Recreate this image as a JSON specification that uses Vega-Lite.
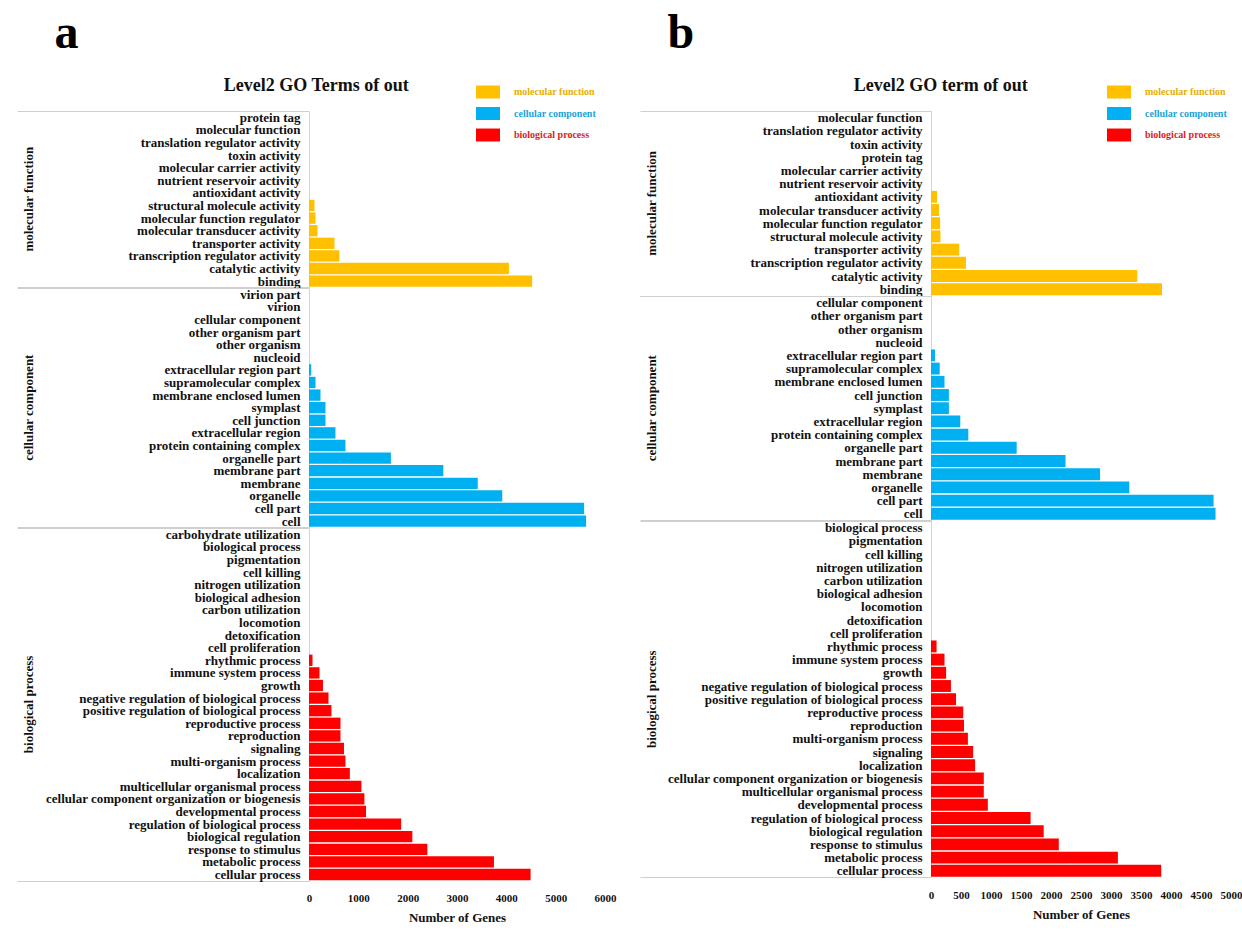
{
  "$schema": "https://vega.github.io/schema/vega-lite/v6.json",
  "background": "white",
  "padding": {"left": 16, "top": 10, "right": 0, "bottom": 0},
  "datasets": {
    "a": [
      {"group": "molecular function", "term": "protein tag", "genes": 0},
      {"group": "molecular function", "term": "molecular function", "genes": 0},
      {"group": "molecular function", "term": "translation regulator activity", "genes": 0},
      {"group": "molecular function", "term": "toxin activity", "genes": 0},
      {"group": "molecular function", "term": "molecular carrier activity", "genes": 0},
      {"group": "molecular function", "term": "nutrient reservoir activity", "genes": 0},
      {"group": "molecular function", "term": "antioxidant activity", "genes": 0},
      {"group": "molecular function", "term": "structural molecule activity", "genes": 111},
      {"group": "molecular function", "term": "molecular function regulator", "genes": 132},
      {"group": "molecular function", "term": "molecular transducer activity", "genes": 172},
      {"group": "molecular function", "term": "transporter activity", "genes": 516},
      {"group": "molecular function", "term": "transcription regulator activity", "genes": 617},
      {"group": "molecular function", "term": "catalytic activity", "genes": 4053},
      {"group": "molecular function", "term": "binding", "genes": 4524},
      {"group": "cellular component", "term": "virion part", "genes": 0},
      {"group": "cellular component", "term": "virion", "genes": 0},
      {"group": "cellular component", "term": "cellular component", "genes": 0},
      {"group": "cellular component", "term": "other organism part", "genes": 0},
      {"group": "cellular component", "term": "other organism", "genes": 0},
      {"group": "cellular component", "term": "nucleoid", "genes": 0},
      {"group": "cellular component", "term": "extracellular region part", "genes": 45},
      {"group": "cellular component", "term": "supramolecular complex", "genes": 132},
      {"group": "cellular component", "term": "membrane enclosed lumen", "genes": 233},
      {"group": "cellular component", "term": "symplast", "genes": 334},
      {"group": "cellular component", "term": "cell junction", "genes": 334},
      {"group": "cellular component", "term": "extracellular region", "genes": 536},
      {"group": "cellular component", "term": "protein containing complex", "genes": 739},
      {"group": "cellular component", "term": "organelle part", "genes": 1660},
      {"group": "cellular component", "term": "membrane part", "genes": 2723},
      {"group": "cellular component", "term": "membrane", "genes": 3421},
      {"group": "cellular component", "term": "organelle", "genes": 3917},
      {"group": "cellular component", "term": "cell part", "genes": 5577},
      {"group": "cellular component", "term": "cell", "genes": 5617},
      {"group": "biological process", "term": "carbohydrate utilization", "genes": 0},
      {"group": "biological process", "term": "biological process", "genes": 0},
      {"group": "biological process", "term": "pigmentation", "genes": 0},
      {"group": "biological process", "term": "cell killing", "genes": 0},
      {"group": "biological process", "term": "nitrogen utilization", "genes": 0},
      {"group": "biological process", "term": "biological adhesion", "genes": 0},
      {"group": "biological process", "term": "carbon utilization", "genes": 0},
      {"group": "biological process", "term": "locomotion", "genes": 0},
      {"group": "biological process", "term": "detoxification", "genes": 0},
      {"group": "biological process", "term": "cell proliferation", "genes": 0},
      {"group": "biological process", "term": "rhythmic process", "genes": 71},
      {"group": "biological process", "term": "immune system process", "genes": 213},
      {"group": "biological process", "term": "growth", "genes": 283},
      {"group": "biological process", "term": "negative regulation of biological process", "genes": 395},
      {"group": "biological process", "term": "positive regulation of biological process", "genes": 455},
      {"group": "biological process", "term": "reproductive process", "genes": 638},
      {"group": "biological process", "term": "reproduction", "genes": 638},
      {"group": "biological process", "term": "signaling", "genes": 709},
      {"group": "biological process", "term": "multi-organism process", "genes": 739},
      {"group": "biological process", "term": "localization", "genes": 828},
      {"group": "biological process", "term": "multicellular organismal process", "genes": 1063},
      {"group": "biological process", "term": "cellular component organization or biogenesis", "genes": 1123},
      {"group": "biological process", "term": "developmental process", "genes": 1156},
      {"group": "biological process", "term": "regulation of biological process", "genes": 1868},
      {"group": "biological process", "term": "biological regulation", "genes": 2095},
      {"group": "biological process", "term": "response to stimulus", "genes": 2399},
      {"group": "biological process", "term": "metabolic process", "genes": 3749},
      {"group": "biological process", "term": "cellular process", "genes": 4492}
    ],
    "b": [
      {"group": "molecular function", "term": "molecular function", "genes": 0},
      {"group": "molecular function", "term": "translation regulator activity", "genes": 0},
      {"group": "molecular function", "term": "toxin activity", "genes": 0},
      {"group": "molecular function", "term": "protein tag", "genes": 0},
      {"group": "molecular function", "term": "molecular carrier activity", "genes": 0},
      {"group": "molecular function", "term": "nutrient reservoir activity", "genes": 0},
      {"group": "molecular function", "term": "antioxidant activity", "genes": 100},
      {"group": "molecular function", "term": "molecular transducer activity", "genes": 133},
      {"group": "molecular function", "term": "molecular function regulator", "genes": 152},
      {"group": "molecular function", "term": "structural molecule activity", "genes": 158},
      {"group": "molecular function", "term": "transporter activity", "genes": 470},
      {"group": "molecular function", "term": "transcription regulator activity", "genes": 582},
      {"group": "molecular function", "term": "catalytic activity", "genes": 3438},
      {"group": "molecular function", "term": "binding", "genes": 3850},
      {"group": "cellular component", "term": "cellular component", "genes": 0},
      {"group": "cellular component", "term": "other organism part", "genes": 0},
      {"group": "cellular component", "term": "other organism", "genes": 0},
      {"group": "cellular component", "term": "nucleoid", "genes": 0},
      {"group": "cellular component", "term": "extracellular region part", "genes": 67},
      {"group": "cellular component", "term": "supramolecular complex", "genes": 145},
      {"group": "cellular component", "term": "membrane enclosed lumen", "genes": 225},
      {"group": "cellular component", "term": "cell junction", "genes": 298},
      {"group": "cellular component", "term": "symplast", "genes": 298},
      {"group": "cellular component", "term": "extracellular region", "genes": 488},
      {"group": "cellular component", "term": "protein containing complex", "genes": 622},
      {"group": "cellular component", "term": "organelle part", "genes": 1428},
      {"group": "cellular component", "term": "membrane part", "genes": 2242},
      {"group": "cellular component", "term": "membrane", "genes": 2818},
      {"group": "cellular component", "term": "organelle", "genes": 3305},
      {"group": "cellular component", "term": "cell part", "genes": 4710},
      {"group": "cellular component", "term": "cell", "genes": 4742},
      {"group": "biological process", "term": "biological process", "genes": 0},
      {"group": "biological process", "term": "pigmentation", "genes": 0},
      {"group": "biological process", "term": "cell killing", "genes": 0},
      {"group": "biological process", "term": "nitrogen utilization", "genes": 0},
      {"group": "biological process", "term": "carbon utilization", "genes": 0},
      {"group": "biological process", "term": "biological adhesion", "genes": 0},
      {"group": "biological process", "term": "locomotion", "genes": 0},
      {"group": "biological process", "term": "detoxification", "genes": 0},
      {"group": "biological process", "term": "cell proliferation", "genes": 0},
      {"group": "biological process", "term": "rhythmic process", "genes": 93},
      {"group": "biological process", "term": "immune system process", "genes": 225},
      {"group": "biological process", "term": "growth", "genes": 252},
      {"group": "biological process", "term": "negative regulation of biological process", "genes": 332},
      {"group": "biological process", "term": "positive regulation of biological process", "genes": 417},
      {"group": "biological process", "term": "reproductive process", "genes": 537},
      {"group": "biological process", "term": "reproduction", "genes": 550},
      {"group": "biological process", "term": "multi-organism process", "genes": 615},
      {"group": "biological process", "term": "signaling", "genes": 702},
      {"group": "biological process", "term": "localization", "genes": 735},
      {"group": "biological process", "term": "cellular component organization or biogenesis", "genes": 880},
      {"group": "biological process", "term": "multicellular organismal process", "genes": 880},
      {"group": "biological process", "term": "developmental process", "genes": 947},
      {"group": "biological process", "term": "regulation of biological process", "genes": 1660},
      {"group": "biological process", "term": "biological regulation", "genes": 1878},
      {"group": "biological process", "term": "response to stimulus", "genes": 2130},
      {"group": "biological process", "term": "metabolic process", "genes": 3115},
      {"group": "biological process", "term": "cellular process", "genes": 3837}
    ]
  },
  "hconcat": [
    {
      "title": {"text": "a", "anchor": "start", "frame": "bounds", "dx": 38, "fontSize": 48, "font": "Liberation Serif", "fontWeight": "bold", "color": "#000", "offset": 19},
      "vconcat": [
        {
          "data": {"name": "a"},
          "title": {"text": "Level2 GO Terms of out", "anchor": "middle", "frame": "bounds", "fontSize": 18, "font": "Liberation Serif", "fontWeight": "bold", "color": "#111", "offset": 10},
          "bounds": "flush",
          "facet": {
            "row": {"field": "group", "type": "nominal", "title": null,
              "sort": ["molecular function", "cellular component", "biological process"],
              "header": {"labelAngle": -90, "labelOrient": "left", "labelFont": "Liberation Serif", "labelFontSize": 13, "labelFontWeight": "bold", "labelColor": "#111", "labelPadding": 267}}
          },
          "spacing": {"row": 0},
          "resolve": {"scale": {"y": "independent"}},
          "spec": {
            "width": 296,
            "height": {"step": 12.6},
            "mark": {"type": "bar", "height": {"band": 0.9}},
            "encoding": {
              "y": {"field": "term", "type": "nominal", "sort": null,
                "scale": {"paddingInner": 0, "paddingOuter": 0},
                "axis": {"title": null, "tickBand": "extent", "tickSize": 292, "tickColor": "#cfcfcf", "tickWidth": 1,
                  "tickOpacity": {"condition": {"test": "datum.index === 1 || datum.index < 0", "value": 1}, "value": 0},
                  "labelPadding": -283, "labelFont": "Liberation Serif", "labelFontSize": 13, "labelFontWeight": "bold", "labelColor": "#111", "labelLimit": 400, "domainColor": "#d4d4d4"}},
              "x": {"field": "genes", "type": "quantitative",
                "scale": {"domain": [0, 6000], "nice": false},
                "axis": {"title": "Number of Genes", "format": "d", "values": [0, 1000, 2000, 3000, 4000, 5000, 6000], "domain": false, "ticks": false, "grid": false, "labelFlush": false, "labelOverlap": false,
                  "labelFont": "Liberation Serif", "labelFontSize": 11, "labelFontWeight": "bold", "labelColor": "#111", "labelPadding": 11,
                  "titleFont": "Liberation Serif", "titleFontSize": 13, "titleFontWeight": "bold", "titleColor": "#111", "titlePadding": 8}},
              "color": {"field": "group", "type": "nominal",
                "scale": {"domain": ["molecular function", "cellular component", "biological process"], "range": ["#FFC000", "#00B0F0", "#FF0000"]},
                "legend": {"title": null, "orient": "none", "legendX": 167, "legendY": -31, "padding": 0, "rowPadding": 2.5,
                  "symbolType": "M-1,-0.54H1V0.54H-1Z", "symbolSize": 576, "symbolStrokeWidth": 0, "symbolOpacity": 1, "labelOffset": 14,
                  "labelFont": "Liberation Serif", "labelFontSize": 10, "labelFontWeight": "bold",
                  "encode": {"labels": {"update": {"fill": {"signal": "datum.value === 'molecular function' ? '#E8AE00' : datum.value === 'cellular component' ? '#1AA3D8' : '#D91E26'"}}}}}}
            }
          }
        }
      ]
    },
    {
      "title": {"text": "b", "anchor": "start", "frame": "bounds", "dx": 28, "fontSize": 48, "font": "Liberation Serif", "fontWeight": "bold", "color": "#000", "offset": 19},
      "vconcat": [
        {
          "data": {"name": "b"},
          "title": {"text": "Level2 GO term of out", "anchor": "middle", "frame": "bounds", "fontSize": 18, "font": "Liberation Serif", "fontWeight": "bold", "color": "#111", "offset": 10},
          "bounds": "flush",
          "facet": {
            "row": {"field": "group", "type": "nominal", "title": null,
              "sort": ["molecular function", "cellular component", "biological process"],
              "header": {"labelAngle": -90, "labelOrient": "left", "labelFont": "Liberation Serif", "labelFontSize": 13, "labelFontWeight": "bold", "labelColor": "#111", "labelPadding": 266}}
          },
          "spacing": {"row": 0},
          "resolve": {"scale": {"y": "independent"}},
          "spec": {
            "width": 300,
            "height": {"step": 13.2},
            "mark": {"type": "bar", "height": {"band": 0.9}},
            "encoding": {
              "y": {"field": "term", "type": "nominal", "sort": null,
                "scale": {"paddingInner": 0, "paddingOuter": 0},
                "axis": {"title": null, "tickBand": "extent", "tickSize": 291, "tickColor": "#cfcfcf", "tickWidth": 1,
                  "tickOpacity": {"condition": {"test": "datum.index === 1 || datum.index < 0", "value": 1}, "value": 0},
                  "labelPadding": -282, "labelFont": "Liberation Serif", "labelFontSize": 13, "labelFontWeight": "bold", "labelColor": "#111", "labelLimit": 400, "domainColor": "#d4d4d4"}},
              "x": {"field": "genes", "type": "quantitative",
                "scale": {"domain": [0, 5000], "nice": false},
                "axis": {"title": "Number of Genes", "format": "d", "values": [0, 500, 1000, 1500, 2000, 2500, 3000, 3500, 4000, 4500, 5000], "domain": false, "ticks": false, "grid": false, "labelFlush": false, "labelOverlap": false,
                  "labelFont": "Liberation Serif", "labelFontSize": 11, "labelFontWeight": "bold", "labelColor": "#111", "labelPadding": 11,
                  "titleFont": "Liberation Serif", "titleFontSize": 13, "titleFontWeight": "bold", "titleColor": "#111", "titlePadding": 8}},
              "color": {"field": "group", "type": "nominal",
                "scale": {"domain": ["molecular function", "cellular component", "biological process"], "range": ["#FFC000", "#00B0F0", "#FF0000"]},
                "legend": {"title": null, "orient": "none", "legendX": 176, "legendY": -31, "padding": 0, "rowPadding": 2.5,
                  "symbolType": "M-1,-0.54H1V0.54H-1Z", "symbolSize": 576, "symbolStrokeWidth": 0, "symbolOpacity": 1, "labelOffset": 14,
                  "labelFont": "Liberation Serif", "labelFontSize": 10, "labelFontWeight": "bold",
                  "encode": {"labels": {"update": {"fill": {"signal": "datum.value === 'molecular function' ? '#E8AE00' : datum.value === 'cellular component' ? '#1AA3D8' : '#D91E26'"}}}}}}
            }
          }
        }
      ]
    }
  ],
  "spacing": 23,
  "resolve": {"scale": {"color": "independent"}},
  "config": {"view": {"stroke": null}}
}
